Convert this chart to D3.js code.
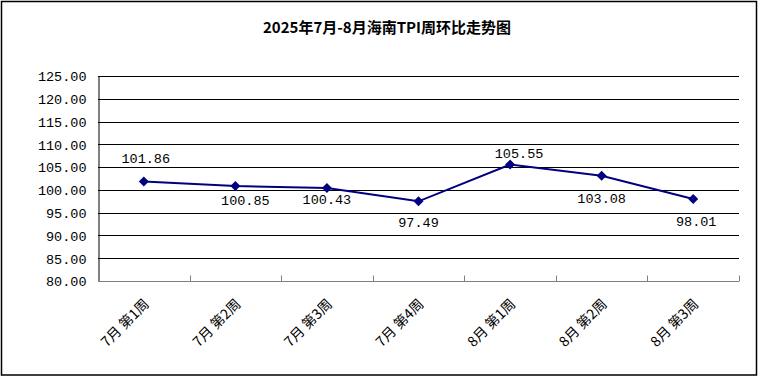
<!DOCTYPE html>
<html>
<head>
<meta charset="utf-8">
<script src="https://cdn.jsdelivr.net/npm/d3@7"></script>
<style>
    body { margin: 0; background: #fff; }
    svg { display: block; }
</style>
</head>
<body>
<div id="chart"></div>
<script>
// Chart data
const categories = ['7月 第1周', '7月 第2周', '7月 第3周', '7月 第4周', '8月 第1周', '8月 第2周', '8月 第3周'];
const values = [101.86, 100.85, 100.43, 97.49, 105.55, 103.08, 98.01];
const yTicks = [80, 85, 90, 95, 100, 105, 110, 115, 120, 125];
const title = '2025年7月-8月海南TPI周环比走势图';

// Label placement (style only): offsets from the point
const labelDx = [2, 10, 0, 0, 9, 0, 3];
const labelDy = [-22, 15, 13, 22, -10, 24, 24];

const width = 758, height = 377;
const margin = { top: 76, right: 19, bottom: 96, left: 98 };
const monoFont = '"Liberation Mono", "DejaVu Sans Mono", monospace';
const cjkFont = '"Noto Sans CJK SC", sans-serif';

const svg = d3.select('#chart')
    .append('svg')
    .attr('width', width)
    .attr('height', height);

svg.append('rect')
    .attr('width', width).attr('height', height)
    .attr('fill', '#fff');

// Outer border
svg.append('rect')
    .attr('x', 1.5).attr('y', 1.5)
    .attr('width', 755).attr('height', 373.5)
    .attr('fill', 'none')
    .attr('stroke', '#000')
    .attr('stroke-width', 1.5);

// Title
svg.append('text')
    .attr('x', 387).attr('y', 26)
    .attr('text-anchor', 'middle')
    .attr('dominant-baseline', 'central')
    .style('font-family', cjkFont)
    .style('font-weight', 'bold')
    .style('font-size', '15px')
    .text(title);

const x = d3.scaleBand()
    .domain(categories)
    .range([margin.left, width - margin.right])
    .paddingInner(0).paddingOuter(0);

const y = d3.scaleLinear()
    .domain([80, 125])
    .range([height - margin.bottom, margin.top]);

// Gridlines
svg.append('g')
    .selectAll('line')
    .data(yTicks.filter(d => d > 80))
    .join('line')
    .attr('x1', margin.left).attr('x2', width - margin.right)
    .attr('y1', d => Math.round(y(d)) + 0.5)
    .attr('y2', d => Math.round(y(d)) + 0.5)
    .attr('stroke', '#000')
    .attr('stroke-width', 1);

// Y axis
const yAxis = svg.append('g')
    .attr('transform', `translate(${margin.left + 0.5},0.5)`)
    .call(d3.axisLeft(y).tickValues(yTicks).tickSize(0).tickPadding(12).tickFormat(d3.format('.2f')));
yAxis.select('.domain').attr('stroke', '#000');
yAxis.selectAll('text')
    .style('font-family', monoFont)
    .style('font-size', '13.5px')
    .attr('fill', '#000');

// X axis (grey, ticks pointing up at category boundaries)
const xBase = Math.round(y(80)) + 0.5;
svg.append('line')
    .attr('x1', margin.left).attr('x2', width - margin.right)
    .attr('y1', xBase).attr('y2', xBase)
    .attr('stroke', '#808080');
svg.append('g')
    .selectAll('line')
    .data(categories.slice(1).concat(['end']))
    .join('line')
    .attr('x1', (d, i) => Math.round(margin.left + x.bandwidth() * (i + 1)) + 0.5)
    .attr('x2', (d, i) => Math.round(margin.left + x.bandwidth() * (i + 1)) + 0.5)
    .attr('y1', xBase).attr('y2', xBase - 6)
    .attr('stroke', '#808080');

// Category labels rotated
svg.append('g')
    .selectAll('text')
    .data(categories)
    .join('text')
    .attr('transform', d => `translate(${x(d) + x.bandwidth() / 2 + 2},${xBase + 19}) rotate(-45)`)
    .attr('text-anchor', 'end')
    .attr('dominant-baseline', 'central')
    .style('font-family', cjkFont)
    .style('font-size', '14px')
    .attr('fill', '#000')
    .text(d => d);

// Line
const cx = (d, i) => x(categories[i]) + x.bandwidth() / 2;
const line = d3.line()
    .x((d, i) => cx(d, i))
    .y(d => y(d));

svg.append('path')
    .datum(values)
    .attr('d', line)
    .attr('fill', 'none')
    .attr('stroke', '#000080')
    .attr('stroke-width', 2);

// Diamond markers
svg.append('g')
    .selectAll('path')
    .data(values)
    .join('path')
    .attr('transform', (d, i) => `translate(${cx(d, i)},${y(d)})`)
    .attr('d', 'M0,-5L5,0L0,5L-5,0Z')
    .attr('fill', '#000080');

// Data labels
svg.append('g')
    .selectAll('text')
    .data(values)
    .join('text')
    .attr('x', (d, i) => cx(d, i) + labelDx[i])
    .attr('y', (d, i) => y(d) + labelDy[i])
    .attr('text-anchor', 'middle')
    .attr('dominant-baseline', 'central')
    .style('font-family', monoFont)
    .style('font-size', '13.5px')
    .attr('fill', '#000')
    .text(d => d.toFixed(2));
</script>
</body>
</html>
